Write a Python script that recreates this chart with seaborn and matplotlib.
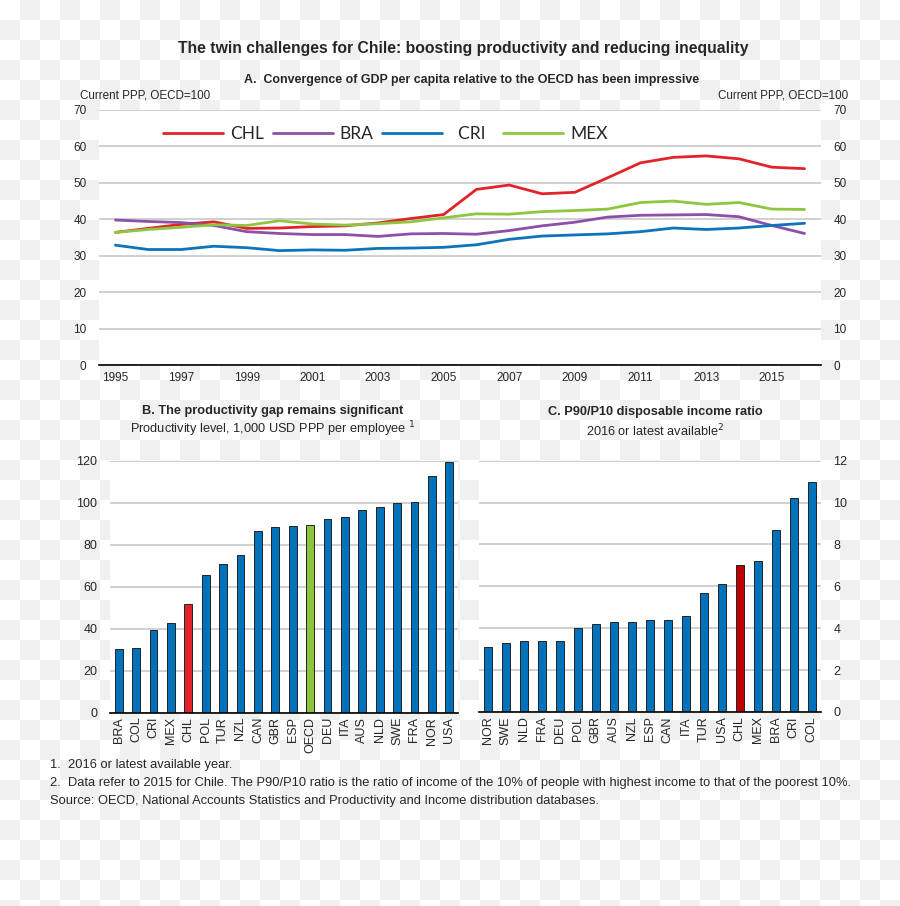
import numpy as np
import pandas as pd
import matplotlib
matplotlib.use("Agg")
import matplotlib.pyplot as plt
import seaborn as sns
from matplotlib import font_manager

# 1. DATA
years = list(range(1995, 2017))
chl = [36.4, 37.5, 38.6, 39.3, 37.5, 37.6, 38.0, 38.2, 39.0, 40.2, 41.3, 48.2,
       49.4, 47.0, 47.4, 51.4, 55.5, 57.0, 57.4, 56.6, 54.3, 53.9]
bra = [39.8, 39.4, 39.1, 38.3, 36.6, 36.1, 35.8, 35.8, 35.3, 36.0, 36.1, 35.9,
       36.9, 38.2, 39.2, 40.6, 41.1, 41.2, 41.3, 40.7, 38.3, 36.1]
cri = [32.9, 31.7, 31.7, 32.6, 32.2, 31.4, 31.6, 31.5, 32.0, 32.1, 32.3, 33.0,
       34.5, 35.4, 35.7, 36.0, 36.6, 37.6, 37.2, 37.6, 38.3, 38.9]
mex = [36.4, 37.2, 37.8, 38.5, 38.3, 39.6, 38.7, 38.4, 38.8, 39.3, 40.4, 41.5,
       41.4, 42.1, 42.4, 42.8, 44.6, 45.0, 44.1, 44.6, 42.8, 42.7]

prod_countries = ["BRA", "COL", "CRI", "MEX", "CHL", "POL", "TUR", "NZL", "CAN", "GBR",
                  "ESP", "OECD", "DEU", "ITA", "AUS", "NLD", "SWE", "FRA", "NOR", "USA"]
prod_values = [30.1, 30.9, 39.3, 42.9, 51.9, 65.7, 70.8, 75.0, 86.4, 88.2,
               89.0, 89.4, 92.4, 93.1, 96.6, 98.0, 99.6, 100.4, 112.6, 119.5]

ineq_countries = ["NOR", "SWE", "NLD", "FRA", "DEU", "POL", "GBR", "AUS", "NZL", "ESP",
                  "CAN", "ITA", "TUR", "USA", "CHL", "MEX", "BRA", "CRI", "COL"]
ineq_values = [3.1, 3.3, 3.4, 3.4, 3.4, 4.0, 4.2, 4.3, 4.3, 4.4,
               4.4, 4.6, 5.7, 6.1, 7.0, 7.2, 8.7, 10.2, 11.0]

# 2. STYLE
sns.set_style("white")
names = {f.name for f in font_manager.fontManager.ttflist}
narrow = "Liberation Sans Narrow" if "Liberation Sans Narrow" in names else "Liberation Sans"
plt.rcParams["font.family"] = [narrow, "DejaVu Sans"]
legend_font = "Lato" if "Lato" in names else "DejaVu Sans"

line_colors = {"CHL": "#e3232a", "BRA": "#8e4fa8", "CRI": "#0f73ba", "MEX": "#8dc63f"}
blue = "#0072bc"
grid_c = "#c8c8c8"

fig = plt.figure(figsize=(9, 9.06), dpi=100)
fig.patch.set_facecolor("white")

# checkered background (transparent png look)
h, w = 906, 900
jj, ii = np.mgrid[0:h, 0:w]
chk = ((ii // 20 + jj // 20) % 2).astype(bool)
bg = np.ones((h, w, 3))
bg[chk] = 240 / 255
fig.figimage(bg[::-1], xo=0, yo=0, zorder=-10, origin="lower")

# 3. PANEL A - LINES
axA = fig.add_axes([99 / 900, 1 - 365 / 906, 722 / 900, 255 / 906])
df_lines = pd.DataFrame({"year": years * 4,
                         "value": chl + bra + cri + mex,
                         "country": ["CHL"] * 22 + ["BRA"] * 22 + ["CRI"] * 22 + ["MEX"] * 22})
sns.lineplot(data=df_lines, x="year", y="value", hue="country", palette=line_colors,
             linewidth=2.0, ax=axA, legend=False)
axA.set_xlim(1994.5, 2016.5)
axA.set_ylim(0, 70)
axA.set_yticks(range(0, 71, 10))
axA.set_xticks(np.arange(1994.5, 2017, 1))
axA.set_xticklabels([])
axA.set_xticks(range(1995, 2016, 2), minor=True)
axA.set_xticklabels([str(y) for y in range(1995, 2016, 2)], minor=True, fontsize=8.5)
axA.tick_params(axis="x", which="major", direction="in", length=4, width=1, color="black")
axA.tick_params(axis="x", which="minor", length=0, pad=5)
axA.tick_params(axis="y", length=0, labelsize=8.5, pad=9, labelleft=True, labelright=True)
axA.grid(axis="y", color=grid_c, linewidth=1.2)
axA.set_axisbelow(True)
for s in ["left", "right", "top"]:
    axA.spines[s].set_visible(False)
axA.spines["bottom"].set_color("black")
axA.spines["bottom"].set_linewidth(1.2)
axA.set_xlabel("")
axA.set_ylabel("")
handles = [plt.Line2D([], [], color=line_colors[c], linewidth=2.0) for c in ["CHL", "BRA", "CRI", "MEX"]]
axA.legend(handles, ["CHL", "BRA", "  CRI  ", "MEX"], ncol=4, frameon=False,
           loc="center left", bbox_to_anchor=(0.0886, 0.905), handlelength=3.46,
           columnspacing=0.5, handletextpad=0.4, borderpad=0, borderaxespad=0,
           prop={"family": legend_font, "size": 12.5})

# 4. PANEL B - PRODUCTIVITY
axB = fig.add_axes([110 / 900, 1 - 712.7 / 906, 348 / 900, 252.2 / 906])
df_b = pd.DataFrame({"country": prod_countries, "value": prod_values})
b_colors = {c: blue for c in prod_countries}
b_colors["CHL"] = "#e32128"
b_colors["OECD"] = "#8cc63f"
sns.barplot(data=df_b, x="country", y="value", hue="country", palette=b_colors, saturation=1,
            width=0.44, edgecolor="#222222", linewidth=0.7, legend=False, ax=axB)
axB.set_ylim(0, 120)
axB.set_xlim(-0.5, len(prod_countries) - 0.5)
axB.set_yticks(range(0, 121, 20))

# 5. PANEL C - P90/P10
axC = fig.add_axes([478.7 / 900, 1 - 712 / 906, 342 / 900, 251.3 / 906])
df_c = pd.DataFrame({"country": ineq_countries, "value": ineq_values})
c_colors = {c: blue for c in ineq_countries}
c_colors["CHL"] = "#c00000"
sns.barplot(data=df_c, x="country", y="value", hue="country", palette=c_colors, saturation=1,
            width=0.44, edgecolor="#222222", linewidth=0.7, legend=False, ax=axC)
axC.set_ylim(0, 12)
axC.set_xlim(-0.5, len(ineq_countries) - 0.5)
axC.set_yticks(range(0, 13, 2))
axC.yaxis.tick_right()

for ax, n in [(axB, len(prod_countries)), (axC, len(ineq_countries))]:
    ax.set_xticks(np.arange(-0.5, n, 1))
    ax.set_xticklabels([])
    ax.set_xticks(range(n), minor=True)
    labels = prod_countries if ax is axB else ineq_countries
    ax.set_xticklabels(labels, minor=True, rotation=90, fontsize=9)
    ax.tick_params(axis="x", which="major", direction="in", length=4, width=1, color="black")
    ax.tick_params(axis="x", which="minor", length=0, pad=3)
    ax.tick_params(axis="y", length=0, labelsize=9, pad=9)
    ax.grid(axis="y", color=grid_c, linewidth=1.2)
    ax.set_axisbelow(True)
    for s in ["left", "right", "top"]:
        ax.spines[s].set_visible(False)
    ax.spines["bottom"].set_color("black")
    ax.spines["bottom"].set_linewidth(1.2)
    ax.set_xlabel("")
    ax.set_ylabel("")

# 6. TEXTS
fig.text(463 / 900, 1 - 48 / 906, "The twin challenges for Chile: boosting productivity and reducing inequality",
         ha="center", va="center", fontsize=11.3, fontweight="bold")
fig.text(472 / 900, 1 - 80 / 906, "A.  Convergence of GDP per capita relative to the OECD has been impressive",
         ha="center", va="center", fontsize=8.9, fontweight="bold")
fig.text(80 / 900, 1 - 95 / 906, "Current PPP, OECD=100", ha="left", va="center", fontsize=8.4)
fig.text(848 / 900, 1 - 95 / 906, "Current PPP, OECD=100", ha="right", va="center", fontsize=8.4)

fig.text(273 / 900, 1 - 411 / 906, "B. The productivity gap remains significant",
         ha="center", va="center", fontsize=9.2, fontweight="bold")
fig.text(273 / 900, 1 - 429 / 906, "Productivity level, 1,000 USD PPP per employee $^{1}$",
         ha="center", va="center", fontsize=9.2)
fig.text(655 / 900, 1 - 412 / 906, "C. P90/P10 disposable income ratio",
         ha="center", va="center", fontsize=9.2, fontweight="bold")
fig.text(655 / 900, 1 - 431 / 906, "2016 or latest available$^{2}$",
         ha="center", va="center", fontsize=9.2)

notes = ["1.  2016 or latest available year.",
         "2.  Data refer to 2015 for Chile. The P90/P10 ratio is the ratio of income of the 10% of people with highest income to that of the poorest 10%.",
         "Source: OECD, National Accounts Statistics and Productivity and Income distribution databases."]
for k, t in enumerate(notes):
    fig.text(50 / 900, 1 - (765 + 18 * k) / 906, t, ha="left", va="center", fontsize=9.3)

fig.savefig("out.png", dpi=100)
